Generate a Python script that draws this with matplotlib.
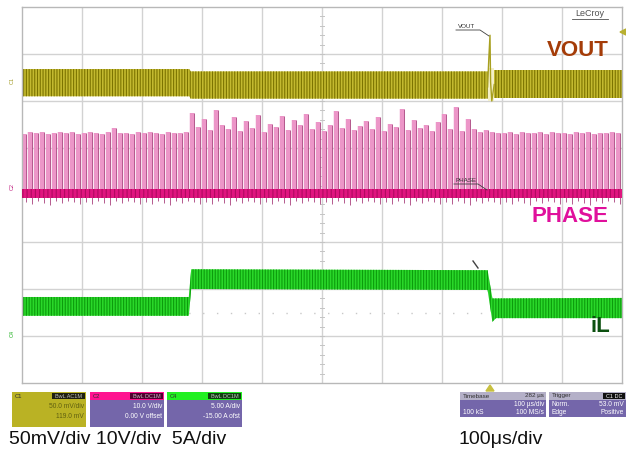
import numpy as np
import matplotlib
matplotlib.use('Agg')
import matplotlib.pyplot as plt
from matplotlib.patches import Rectangle, Polygon

plt.rcParams['font.family'] = ['Liberation Sans', 'DejaVu Sans']
plt.rcParams['hatch.linewidth'] = 0.8

# 时间轴单位 us，纵轴单位为格 (div)，中心为 0
# VOUT 纹波包络
vout_t = [0, 279, 281, 776]
vout_hi = [2.68, 2.68, 2.63, 2.63]
vout_lo = [2.10, 2.10, 2.05, 2.05]
vout2_t = [787, 1000]
vout2_hi = [2.66, 2.66]
vout2_lo = [2.07, 2.07]
# 负载跳变处 VOUT 尖峰
spike_t = [776, 778, 780, 781, 783, 787]
spike_v = [2.30, 2.90, 3.40, 2.40, 2.00, 2.35]

# PHASE 基线和开关脉冲
phase_hi = 0.13
phase_lo = -0.07
pulse_t = np.arange(4, 1000, 10)
pulse_h = [1.30, 1.33, 1.31, 1.34, 1.30, 1.32, 1.35, 1.31, 1.33, 1.30,
           1.32, 1.34, 1.31, 1.30, 1.33, 1.42, 1.31, 1.32, 1.30, 1.33,
           1.31, 1.34, 1.32, 1.30, 1.33, 1.31, 1.32, 1.35,
           1.75, 1.45, 1.62, 1.38, 1.80, 1.50, 1.40, 1.65, 1.36, 1.58,
           1.42, 1.70, 1.35, 1.52, 1.44, 1.68, 1.38, 1.60, 1.48, 1.72,
           1.40, 1.55, 1.36, 1.50, 1.78, 1.42, 1.62, 1.38, 1.46, 1.58,
           1.40, 1.66, 1.37, 1.52, 1.45, 1.82, 1.39, 1.60, 1.43, 1.50,
           1.36, 1.55, 1.72, 1.41, 1.88, 1.36, 1.62, 1.40, 1.35, 1.38,
           1.33, 1.31, 1.32, 1.34, 1.30, 1.33, 1.31, 1.32, 1.35, 1.30,
           1.33, 1.31, 1.32, 1.30, 1.34, 1.31, 1.33, 1.30, 1.32, 1.31,
           1.33, 1.32]
pulse_dip = [-0.14, -0.20, -0.12, -0.16, -0.22, -0.13, -0.18, -0.12, -0.15, -0.20]

# iL 电流包络
il_t = [0, 278, 282, 776, 784, 790, 1000]
il_hi = [-2.17, -2.17, -1.58, -1.60, -2.20, -2.20, -2.19]
il_lo = [-2.57, -2.57, -2.00, -2.02, -2.70, -2.62, -2.62]

fig = plt.figure(figsize=(6.26, 4.51), dpi=100)
fig.patch.set_facecolor('white')
ax = fig.add_axes([22 / 626, 1 - 383 / 451, 600 / 626, 376 / 451])
ax.set_xlim(0, 1000)
ax.set_ylim(-4, 4)
ax.set_xticks([])
ax.set_yticks([])
for s in ax.spines.values():
    s.set_color('#b8b8b8')
    s.set_linewidth(1)

# 网格
for gx in range(100, 1000, 100):
    ax.axvline(gx, color='#d2d2d2', lw=1, zorder=0)
for gy in range(-3, 4):
    ax.axhline(gy, color='#d2d2d2', lw=1, zorder=0)
# 中心轴刻度
for m in np.arange(-4, 4.01, 0.2):
    ax.plot([496, 504], [m, m], color='#c4c4c4', lw=0.7, zorder=0)
ax.axhline(-2.51, color='#c8c8c8', lw=1, ls=(0, (1, 9)), zorder=0)

# VOUT
ax.fill_between(vout_t, vout_lo, vout_hi, facecolor='#c4ba30', edgecolor='#7c7400',
                hatch='||||||', lw=0, zorder=2)
ax.fill_between(vout2_t, vout2_lo, vout2_hi, facecolor='#c4ba30', edgecolor='#7c7400',
                hatch='||||||', lw=0, zorder=2)
ax.fill_between([776, 787], [2.0, 2.0], [2.7, 2.7], facecolor='#f4f0c8', lw=0, zorder=2)
ax.plot(spike_t, spike_v, color='#a8a020', lw=1.0, zorder=3)

# PHASE
ax.vlines(pulse_t, phase_lo, pulse_h, color='#ec96c8', lw=3.2, zorder=2)
dips = [pulse_dip[k % len(pulse_dip)] for k in range(len(pulse_t))]
ax.vlines(pulse_t + 3, dips, pulse_h, color='#a8407c', lw=0.6, zorder=2)
ax.fill_between([0, 1000], [phase_lo, phase_lo], [phase_hi, phase_hi],
                facecolor='#e0157f', edgecolor='#b00a60', hatch='||||', lw=0, zorder=3)

# iL
ax.fill_between(il_t, il_lo, il_hi, facecolor='#2ad82a', edgecolor='#0c9c0c',
                hatch='||||||', lw=0, zorder=2)

# 叠加层：标注和信息框
ov = fig.add_axes([0, 0, 1, 1], zorder=5)
ov.set_xlim(0, 626)
ov.set_ylim(451, 0)
ov.axis('off')
ov.patch.set_alpha(0)

ov.text(590, 13, 'LeCroy', fontsize=6.5, color='#505050', ha='center', va='center')
ov.plot([572, 608], [19, 19], color='#505050', lw=0.6)
ov.add_patch(Polygon([[626, 29], [626, 35], [620, 32]], color='#b8b030'))
ov.add_patch(Polygon([[486, 391], [494, 391], [490, 385]], color='#c8c040'))

ov.text(467, 26, 'VOUT', fontsize=4.5, color='#303030', ha='center', va='center')
ov.plot([456, 480, 489], [30, 30, 36], color='#404040', lw=0.6)
ov.text(466, 180, 'PHASE', fontsize=4.5, color='#303030', ha='center', va='center')
ov.plot([454, 478, 487], [184, 184, 190], color='#404040', lw=0.6)
ov.plot([473, 478], [261, 268], color='#404040', lw=1.0)

ov.text(12, 80, 'C1', fontsize=4, color='#a09820', rotation=90, ha='center', va='center')
ov.text(12, 187, 'C2', fontsize=4, color='#c02080', rotation=90, ha='center', va='center')
ov.text(12, 333, 'C4', fontsize=4, color='#20b020', rotation=90, ha='center', va='center')

ov.text(578, 50, 'VOUT', fontsize=16, fontweight='bold', color='#a43c08', ha='center', va='center')
ov.text(570, 216, 'PHASE', fontsize=16, fontweight='bold', color='#e0109c', ha='center', va='center')
ov.text(600, 327, 'iL', fontsize=16, fontweight='bold', color='#0c5010', ha='center', va='center')


def info_box(x, y, w, head_col, tag, tag_col, name, lines, body_col='#7466aa', txt='white'):
    ov.add_patch(Rectangle((x, y), w, 35, facecolor=body_col, edgecolor='none'))
    ov.add_patch(Rectangle((x, y), w, 8, facecolor=head_col, edgecolor='none'))
    ov.add_patch(Rectangle((x + w - 34, y + 1), 33, 6, facecolor=tag_col, edgecolor='none'))
    ov.text(x + 3, y + 4, name, fontsize=4.2, color='#303030', va='center')
    ov.text(x + w - 17, y + 4, tag, fontsize=4, color='#c0c0c0', ha='center', va='center')
    for k, ln in enumerate(lines):
        ov.text(x + w - 2, y + 15 + k * 9, ln, fontsize=4.8, color=txt, ha='right', va='center')


info_box(12, 392, 74, '#bab224', 'BwL AC1M', '#202010', 'C1',
         ['50.0 mV/div', '119.0 mV'], body_col='#bab224', txt='#606010')
info_box(90, 392, 74, '#ff1490', 'BwL DC1M', '#500030', 'C2',
         ['10.0 V/div', '0.00 V offset'])
info_box(167, 392, 75, '#22f022', 'BwL DC1M', '#104010', 'C4',
         ['5.00 A/div', '-15.00 A ofst'])

# Timebase / Trigger
ov.add_patch(Rectangle((460, 392), 86, 25, facecolor='#7466aa', edgecolor='none'))
ov.add_patch(Rectangle((460, 392), 86, 8, facecolor='#b4b0c8', edgecolor='none'))
ov.text(463, 396, 'Timebase', fontsize=4.5, color='#303030', va='center')
ov.text(544, 396, '282 \u00b5s', fontsize=4.5, color='#303030', ha='right', va='center')
ov.text(544, 404.5, '100 \u00b5s/div', fontsize=4.8, color='white', ha='right', va='center')
ov.text(463, 412.5, '100 kS', fontsize=4.8, color='white', va='center')
ov.text(544, 412.5, '100 MS/s', fontsize=4.8, color='white', ha='right', va='center')

ov.add_patch(Rectangle((549, 392), 77, 25, facecolor='#7466aa', edgecolor='none'))
ov.add_patch(Rectangle((549, 392), 77, 8, facecolor='#b4b0c8', edgecolor='none'))
ov.add_patch(Rectangle((603, 393), 22, 6, facecolor='#101010', edgecolor='none'))
ov.text(552, 396, 'Trigger', fontsize=4.5, color='#303030', va='center')
ov.text(614, 396, 'C1 DC', fontsize=4, color='white', ha='center', va='center')
ov.text(552, 404.5, 'Norm.', fontsize=4.8, color='white', va='center')
ov.text(624, 404.5, '53.0 mV', fontsize=4.8, color='white', ha='right', va='center')
ov.text(552, 412.5, 'Edge', fontsize=4.8, color='white', va='center')
ov.text(624, 412.5, 'Positive', fontsize=4.8, color='white', ha='right', va='center')

ov.text(9, 440, '50mV/div 10V/div  5A/div', fontsize=14, color='#101010', va='center')
ov.text(458, 440, '100\u03bcs/div', fontsize=14, color='#101010', va='center')

plt.savefig('out.png', dpi=100)
